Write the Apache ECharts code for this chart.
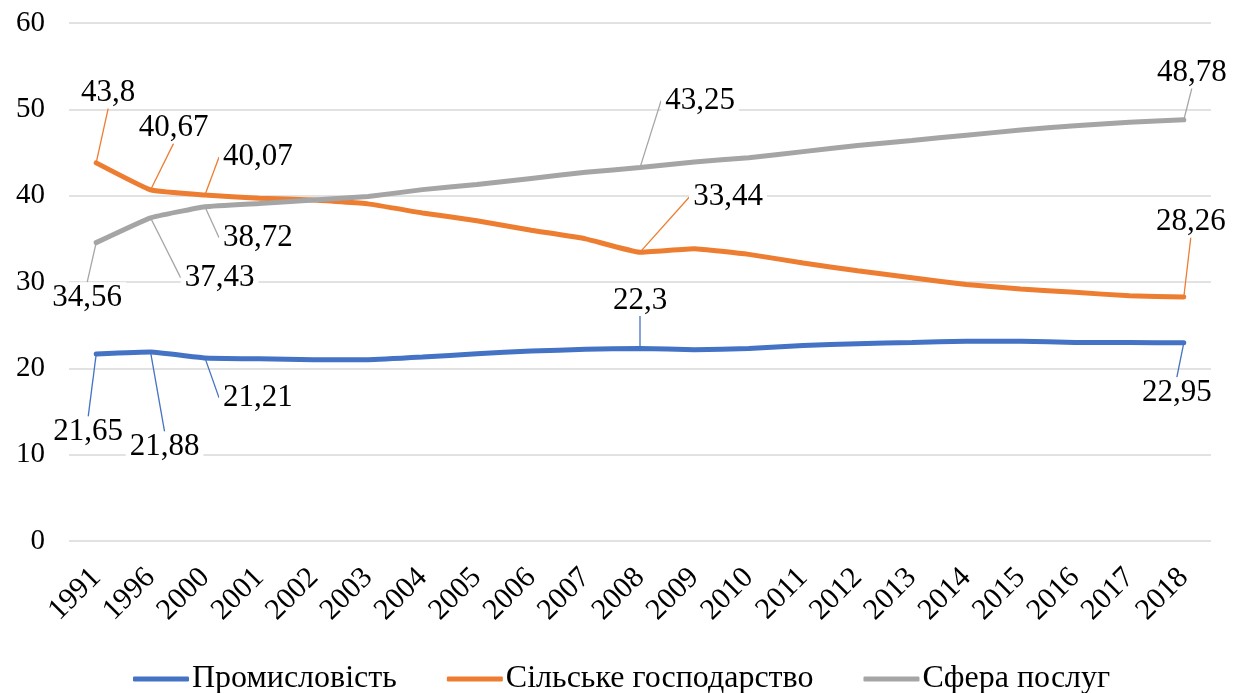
<!DOCTYPE html>
<html>
<head>
<meta charset="utf-8">
<script src="https://cdn.jsdelivr.net/npm/echarts@6/dist/echarts.min.js"></script>
<style>
  html, body { margin: 0; padding: 0; background: #fff; }
  #chart { width: 1245px; height: 693px; }
</style>
</head>
<body>
<div id="chart"></div>
<script>
const years = ["1991", "1996", "2000", "2001", "2002", "2003", "2004", "2005", "2006", "2007",
  "2008", "2009", "2010", "2011", "2012", "2013", "2014", "2015", "2016", "2017", "2018"];
const industry = [21.65, 21.88, 21.21, 21.1, 21.0, 21.0, 21.3, 21.7, 22.0, 22.2,
  22.3, 22.15, 22.3, 22.65, 22.85, 23.0, 23.15, 23.15, 23.0, 23.0, 22.95];
const agriculture = [43.8, 40.67, 40.07, 39.7, 39.5, 39.05, 38.0, 37.1, 36.0, 35.0,
  33.44, 33.85, 33.2, 32.2, 31.3, 30.5, 29.7, 29.2, 28.8, 28.4, 28.26];
const services = [34.56, 37.43, 38.72, 39.1, 39.5, 39.9, 40.7, 41.3, 42.0, 42.7,
  43.25, 43.9, 44.4, 45.1, 45.8, 46.4, 47.0, 47.6, 48.1, 48.5, 48.78];
const seriesNames = ["Промисловість", "Сільське господарство", "Сфера послуг"];
const colors = ["#4472C4", "#ED7D31", "#A5A5A5"];
const labelled = [0, 1, 2, 10, 20];

// зміщення підписів від точки [dx, dy]
const labelShift = [
  { 0: [-8, 78], 1: [14, 95], 2: [53, 40], 10: [0, -48], 20: [-7, 50] },
  { 0: [12, -70], 1: [23, -62], 2: [53, -38], 10: [88, -55], 20: [7, -75] },
  { 0: [-9, 55], 1: [69, 60], 2: [53, 31], 10: [60, -67], 20: [8, -47] }
];

const font = "Liberation Serif";
let myChart = echarts.init(document.getElementById("chart"));

function makeSeries(name, values, idx) {
  return {
    name: name,
    type: "line",
    smooth: 0.1,
    symbol: "circle",
    symbolSize: 1,
    showSymbol: true,
    showAllSymbol: true,
    lineStyle: { width: 5, color: colors[idx], cap: "round" },
    itemStyle: { color: colors[idx] },
    label: {
      show: false,
      position: "inside",
      fontFamily: font,
      fontSize: 31,
      color: "#000",
      backgroundColor: "#fff",
      padding: [0, 4],
      formatter: (p) => String(p.value).replace(".", ",")
    },
    labelLine: {
      show: true,
      lineStyle: { color: colors[idx], width: 1.3 }
    },
    labelLayout: (p) => {
      const s = labelShift[idx][p.dataIndex];
      return s ? { dx: s[0], dy: s[1] } : {};
    },
    emphasis: { disabled: true },
    data: values.map((v, i) =>
      labelled.includes(i) ? { value: v, label: { show: true } } : v)
  };
}

let option = {
  animation: false,
  textStyle: { fontFamily: font },
  grid: { left: 69, right: 34, top: 23, bottom: 152 },
  legend: {
    top: 658,
    left: 128,
    itemGap: 50,
    itemWidth: 56,
    itemHeight: 5,
    icon: "roundRect",
    textStyle: { fontFamily: font, fontSize: 32, color: "#000", padding: [0, 0, 0, -2] },
    data: seriesNames
  },
  xAxis: {
    type: "category",
    data: years,
    axisLine: { show: false },
    axisTick: { show: false },
    axisLabel: {
      interval: 0,
      rotate: 45,
      margin: 32,
      fontFamily: font,
      fontSize: 30,
      color: "#000"
    }
  },
  yAxis: {
    type: "value",
    min: 0,
    max: 60,
    interval: 10,
    axisLine: { show: false },
    axisTick: { show: false },
    axisLabel: { margin: 24, fontFamily: font, fontSize: 29, color: "#000" },
    splitLine: { lineStyle: { color: "#D9D9D9", width: 1.5 } }
  },
  series: [
    makeSeries(seriesNames[0], industry, 0),
    makeSeries(seriesNames[1], agriculture, 1),
    makeSeries(seriesNames[2], services, 2)
  ]
};
myChart.setOption(option);
</script>
</body>
</html>
